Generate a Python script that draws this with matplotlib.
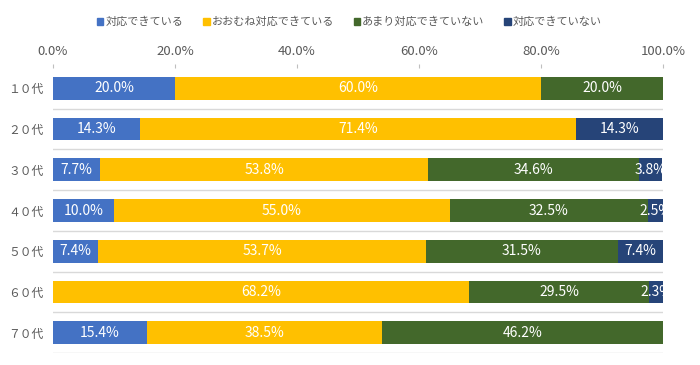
import matplotlib.pyplot as plt
from matplotlib.patches import Patch

plt.rcParams['font.family'] = ['Noto Sans CJK JP', 'DejaVu Sans']

ages = ['１０代', '２０代', '３０代', '４０代', '５０代', '６０代', '７０代']
series = ['対応できている', 'おおむね対応できている', 'あまり対応できていない', '対応できていない']
values = [
    [20.0, 14.3, 7.7, 10.0, 7.4, 0.0, 15.4],
    [60.0, 71.4, 53.8, 55.0, 53.7, 68.2, 38.5],
    [20.0, 0.0, 34.6, 32.5, 31.5, 29.5, 46.2],
    [0.0, 14.3, 3.8, 2.5, 7.4, 2.3, 0.0],
]
colors = ['#4472C4', '#FFC000', '#43682B', '#264478']

fig = plt.figure(figsize=(7, 3.65), dpi=100)
ax = fig.add_axes([53 / 700, 12 / 365, 610 / 700, 285 / 365])

ypos = list(range(len(ages)))
left = [0.0] * len(ages)
for vals, col in zip(values, colors):
    bars = ax.barh(ypos, vals, left=left, height=0.56, color=col, zorder=3)
    for bar, v in zip(bars, vals):
        if v > 0:
            ax.text(bar.get_x() + bar.get_width() / 2, bar.get_y() + bar.get_height() / 2,
                    f'{v:.1f}%', ha='center', va='center', color='white', fontsize=10,
                    zorder=4, clip_on=True)
    left = [a + b for a, b in zip(left, vals)]

ax.set_xlim(0, 100)
ax.set_ylim(len(ages) - 0.5, -0.5)
ax.set_yticks(ypos)
ax.set_yticklabels(ages)
ax.xaxis.tick_top()
ax.set_xticks([0, 20, 40, 60, 80, 100])
ax.set_xticklabels([f'{t:.1f}%' for t in [0, 20, 40, 60, 80, 100]])
ax.tick_params(axis='x', length=3, color='#BFBFBF', colors='#595959', labelsize=9.5, pad=4)
ax.tick_params(axis='y', length=0, colors='#595959', labelsize=8.5, pad=7)

for b in [i + 0.5 for i in ypos]:
    ax.axhline(b, color='#D9D9D9', lw=1, zorder=1)
for s in ax.spines.values():
    s.set_visible(False)

handles = [Patch(color=c, label=s) for c, s in zip(colors, series)]
fig.legend(handles=handles, loc='center', bbox_to_anchor=(0.499, 1 - 22 / 365), ncol=4,
           frameon=False, fontsize=8, handlelength=0.6, handleheight=0.6,
           handletextpad=0.15, columnspacing=1.8, labelcolor='#595959')

fig.savefig('out.png', dpi=100)
